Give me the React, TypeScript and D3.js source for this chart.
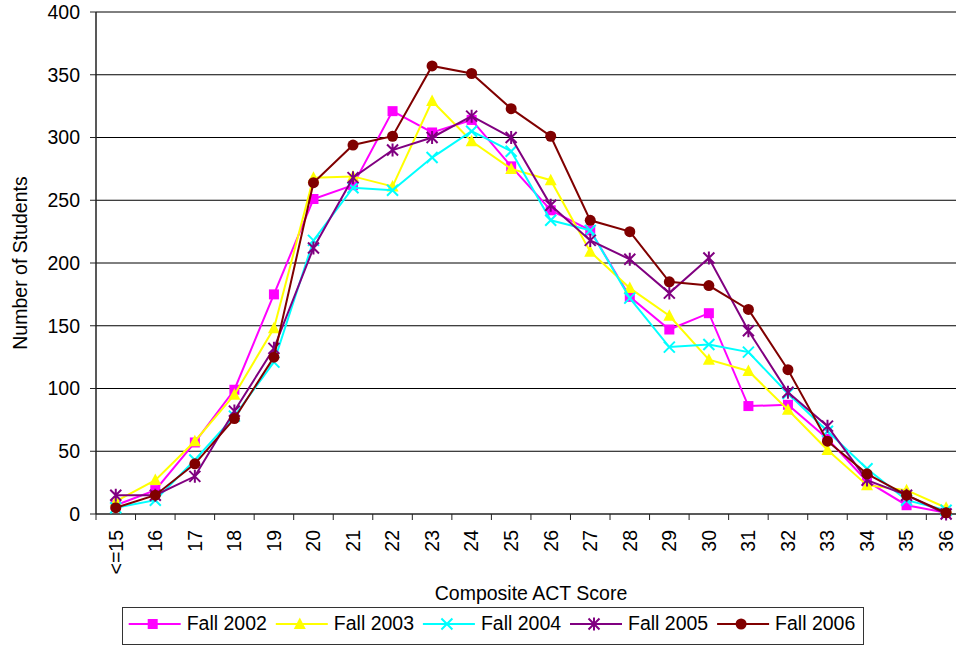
import * as d3 from 'd3';
import React from 'react';

const scores = ['<=15', '16', '17', '18', '19', '20', '21', '22', '23', '24', '25', '26', '27', '28', '29', '30', '31', '32', '33', '34', '35', '36'];

const fall2002 = [7, 19, 57, 99, 175, 251, 262, 321, 304, 314, 277, 242, 226, 173, 147, 160, 86, 87, 60, 26, 7, 1];
const fall2003 = [10, 27, 58, 95, 148, 268, 269, 261, 329, 297, 275, 266, 209, 180, 158, 123, 114, 83, 51, 23, 19, 5];
const fall2004 = [5, 11, 43, 78, 121, 218, 260, 258, 284, 305, 289, 234, 226, 172, 133, 135, 129, 96, 66, 36, 11, 3];
const fall2005 = [15, 15, 30, 82, 132, 212, 268, 290, 300, 317, 300, 246, 218, 203, 176, 204, 146, 97, 70, 27, 15, 0];
const fall2006 = [5, 15, 40, 76, 125, 264, 294, 301, 357, 351, 323, 301, 234, 225, 185, 182, 163, 115, 58, 32, 15, 1];

const yTicks = [0, 50, 100, 150, 200, 250, 300, 350, 400];

type Marker = 'square' | 'triangle' | 'cross' | 'star' | 'circle';

const series: Array<{ name: string; values: number[]; color: string; marker: Marker }> = [
  { name: 'Fall 2002', values: fall2002, color: '#ff00ff', marker: 'square' },
  { name: 'Fall 2003', values: fall2003, color: '#ffff00', marker: 'triangle' },
  { name: 'Fall 2004', values: fall2004, color: '#00ffff', marker: 'cross' },
  { name: 'Fall 2005', values: fall2005, color: '#800080', marker: 'star' },
  { name: 'Fall 2006', values: fall2006, color: '#800000', marker: 'circle' },
];

const FONT = '"Liberation Sans", Arial, sans-serif';

function drawMarker(g: d3.Selection<SVGGElement, unknown, null, undefined>, kind: Marker, cx: number, cy: number, color: string) {
  const s = 5.5;
  if (kind === 'square') {
    g.append('rect').attr('x', cx - 5).attr('y', cy - 5).attr('width', 10).attr('height', 10).attr('fill', color);
  } else if (kind === 'triangle') {
    g.append('path')
      .attr('d', `M${cx},${cy - 6.5}L${cx + 6},${cy + 5}L${cx - 6},${cy + 5}Z`)
      .attr('fill', color);
  } else if (kind === 'circle') {
    g.append('circle').attr('cx', cx).attr('cy', cy).attr('r', 5.5).attr('fill', color);
  } else {
    const d = `M${cx - s},${cy - s}L${cx + s},${cy + s}M${cx - s},${cy + s}L${cx + s},${cy - s}` +
      (kind === 'star' ? `M${cx},${cy - s - 1}L${cx},${cy + s + 1}` : '');
    g.append('path').attr('d', d).attr('stroke', color).attr('stroke-width', 2).attr('fill', 'none');
  }
}

export default function App() {
  const ref = React.useRef<SVGSVGElement>(null);
  const width = 956;
  const height = 645;

  React.useEffect(() => {
    if (!ref.current) return;
    const svg = d3.select(ref.current);
    svg.selectAll('*').remove();

    const left = 96;
    const top = 12;
    const bottom = 514;
    const bandW = 39.54;
    const right = left + bandW * scores.length;

    const x = d3.scaleBand<string>().domain(scores).range([left, right]);
    const y = d3.scaleLinear().domain([0, 400]).range([bottom, top]);

    const g = svg.append('g');

    // gridlines
    g.append('g')
      .selectAll('line')
      .data(yTicks.filter((t) => t > 0))
      .enter()
      .append('line')
      .attr('x1', left)
      .attr('x2', right)
      .attr('y1', (d) => y(d))
      .attr('y2', (d) => y(d))
      .attr('stroke', '#000')
      .attr('stroke-width', 1);

    // y axis
    const yAxis = g.append('g');
    yAxis.append('line').attr('x1', left).attr('x2', left).attr('y1', top).attr('y2', bottom).attr('stroke', '#222').attr('stroke-width', 1.5);
    yTicks.forEach((t) => {
      yAxis.append('line').attr('x1', left - 6).attr('x2', left).attr('y1', y(t)).attr('y2', y(t)).attr('stroke', '#222');
      yAxis.append('text')
        .attr('x', left - 16)
        .attr('y', y(t))
        .attr('dy', '0.35em')
        .attr('text-anchor', 'end')
        .attr('font-family', FONT)
        .attr('font-size', 19.5)
        .attr('fill', '#000')
        .text(t);
    });

    // x axis
    const xAxis = g.append('g');
    xAxis.append('line').attr('x1', left).attr('x2', right).attr('y1', bottom).attr('y2', bottom).attr('stroke', '#222').attr('stroke-width', 1.5);
    d3.range(scores.length + 1).forEach((i) => {
      const tx = left + i * x.bandwidth();
      xAxis.append('line').attr('x1', tx).attr('x2', tx).attr('y1', bottom).attr('y2', bottom + 6).attr('stroke', '#222');
    });
    scores.forEach((s) => {
      const cx = (x(s) ?? 0) + x.bandwidth() / 2;
      xAxis.append('text')
        .attr('transform', `translate(${cx},530) rotate(-90)`)
        .attr('dy', '0.35em')
        .attr('text-anchor', 'end')
        .attr('font-family', FONT)
        .attr('font-size', 19.5)
        .attr('fill', '#000')
        .text(s);
    });

    // axis titles
    g.append('text')
      .attr('x', 531)
      .attr('y', 600)
      .attr('text-anchor', 'middle')
      .attr('font-family', FONT)
      .attr('font-size', 19.5)
      .text('Composite ACT Score');
    g.append('text')
      .attr('transform', `translate(27,263) rotate(-90)`)
      .attr('text-anchor', 'middle')
      .attr('font-family', FONT)
      .attr('font-size', 19.5)
      .text('Number of Students');

    // series
    const line = d3
      .line<number>()
      .x((_, i) => (x(scores[i]) ?? 0) + x.bandwidth() / 2)
      .y((d) => y(d));

    series.forEach((s) => {
      const sg = g.append('g');
      sg.append('path').datum(s.values).attr('fill', 'none').attr('stroke', s.color).attr('stroke-width', 2).attr('d', line);
      s.values.forEach((v, i) => {
        drawMarker(sg, s.marker, (x(scores[i]) ?? 0) + x.bandwidth() / 2, y(v), s.color);
      });
    });

    // legend
    const lg = g.append('g');
    lg.append('rect').attr('x', 122.5).attr('y', 607.5).attr('width', 741).attr('height', 37).attr('fill', '#fff').attr('stroke', '#333').attr('stroke-width', 1);
    series.forEach((s, i) => {
      const mx = 152.7 + i * 147.1;
      const ly = 624;
      lg.append('line').attr('x1', mx - 24).attr('x2', mx + 28).attr('y1', ly).attr('y2', ly).attr('stroke', s.color).attr('stroke-width', 2);
      drawMarker(lg, s.marker, mx, ly, s.color);
      lg.append('text')
        .attr('x', mx + 34)
        .attr('y', 630)
        .attr('font-family', FONT)
        .attr('font-size', 19.5)
        .attr('fill', '#000')
        .text(s.name);
    });
  }, []);

  return (
    <svg
      ref={ref}
      width={width}
      height={height}
      style={{ position: 'absolute', left: 0, top: 0, background: '#fff' }}
    />
  );
}
